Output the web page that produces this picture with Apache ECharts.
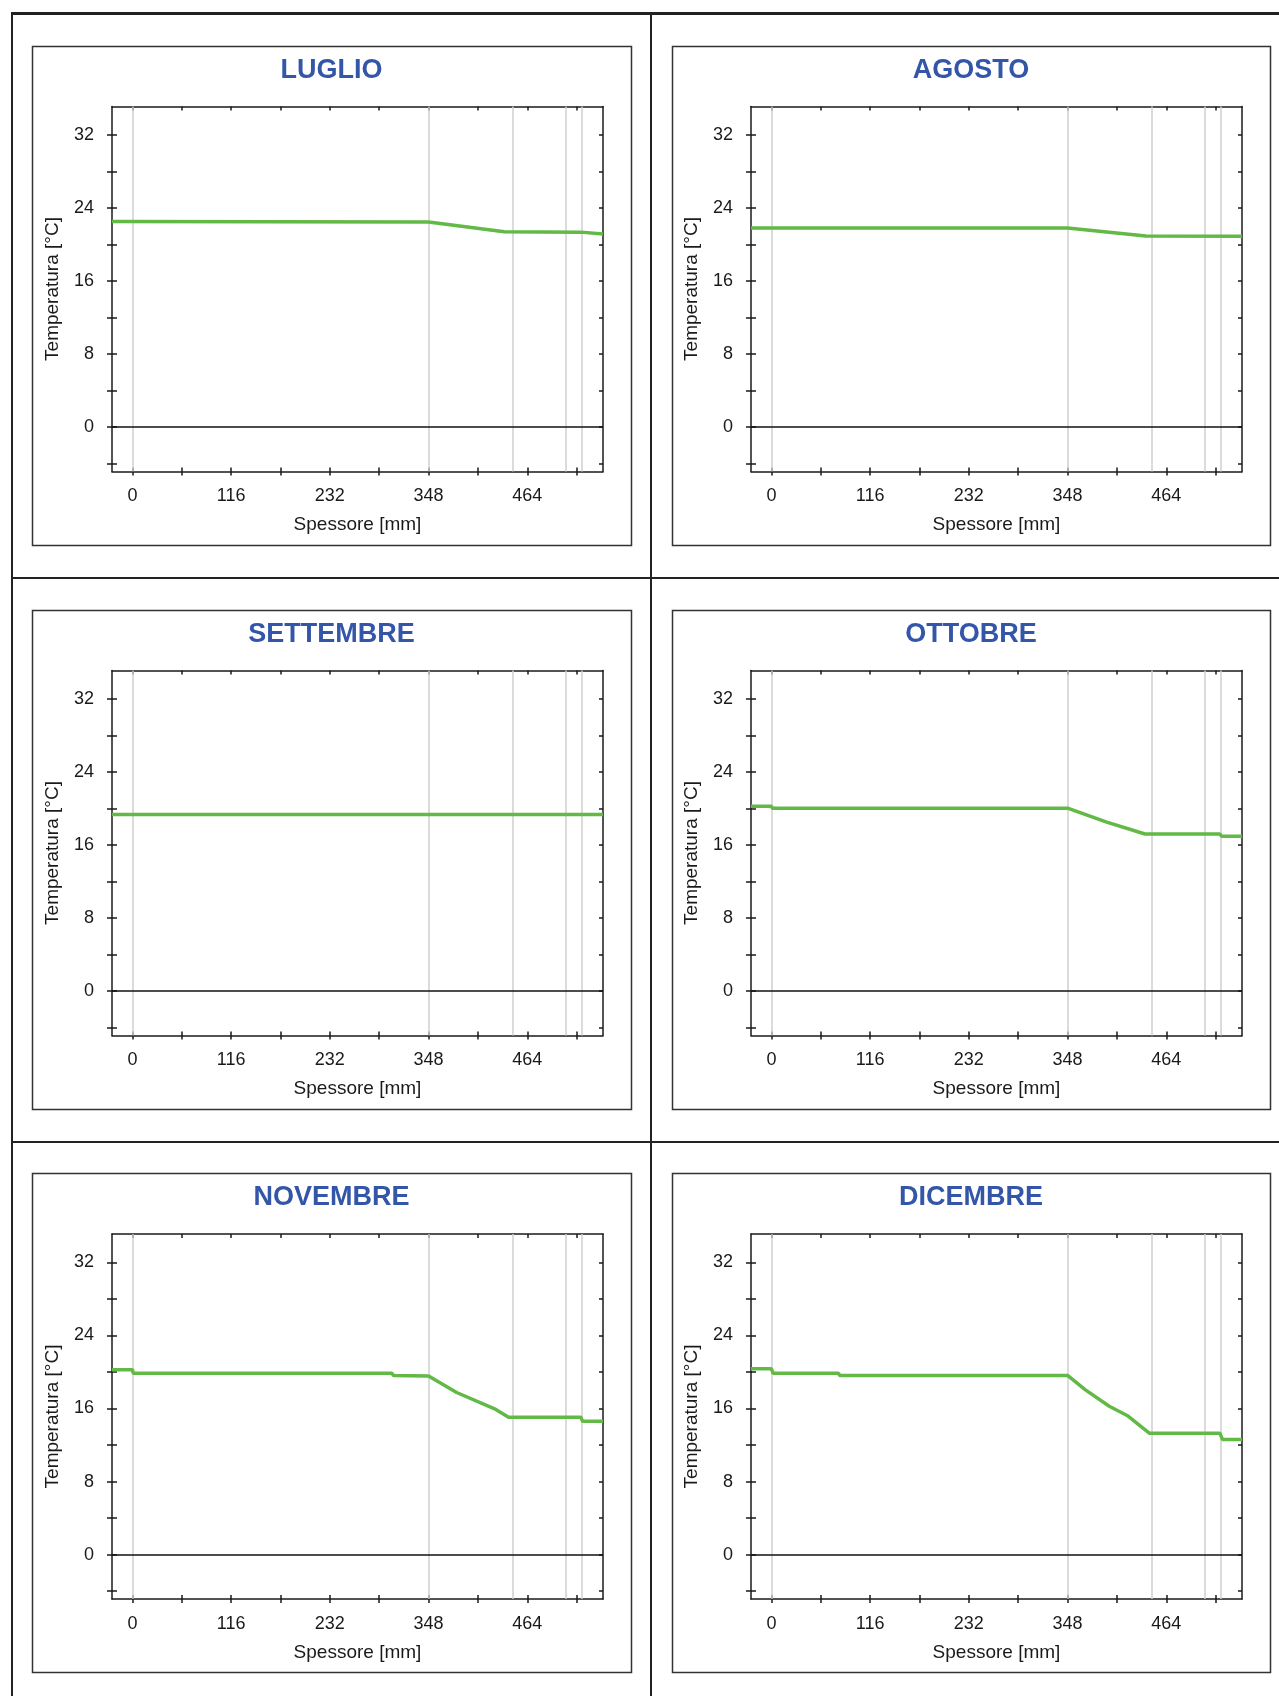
<!DOCTYPE html>
<html>
<head>
<meta charset="utf-8">
<script src="https://cdn.jsdelivr.net/npm/echarts@6/dist/echarts.min.js"></script>
<style>
html,body{margin:0;padding:0;background:#ffffff;}
#c{width:1279px;height:1696px;}
</style>
</head>
<body>
<div id="c"></div>
<script>
// ---------------- DATA ----------------
const months = ['LUGLIO', 'AGOSTO', 'SETTEMBRE', 'OTTOBRE', 'NOVEMBRE', 'DICEMBRE'];
const xTickValues = [0, 58, 116, 174, 232, 290, 348, 406, 464, 522];
const xLabelValues = [0, 116, 232, 348, 464];
const yTickValues = [-4, 0, 4, 8, 12, 16, 20, 24, 28, 32];
const yLabelValues = [0, 8, 16, 24, 32];
const xExtent = [-24, 553];
const yExtent = [-4.85, 35.1];
const layerBoundaries = [0, 348, 447.5, 509, 528];
const xName = 'Spessore [mm]';
const yName = 'Temperatura [°C]';

// temperature profiles: thickness [mm] and temperature [°C]
const luglioX = [-24, 348, 437, 527, 529, 553];
const luglioT = [22.5, 22.45, 21.4, 21.35, 21.15, 21.15];
const agostoX = [-24, 348, 440, 553];
const agostoT = [21.8, 21.8, 20.93, 20.9];
const settembreX = [-24, 553];
const settembreT = [19.35, 19.35];
const ottobreX = [-24, 0, 1, 348, 394, 439, 527, 529, 553];
const ottobreT = [20.25, 20.25, 20.03, 20.03, 18.5, 17.2, 17.2, 16.97, 16.97];
const novembreX = [-24, 0, 1, 305, 307, 348, 381, 427, 442, 527, 529, 553];
const novembreT = [20.25, 20.25, 19.85, 19.85, 19.6, 19.55, 17.75, 15.9, 15.05, 15.05, 14.6, 14.6];
const dicembreX = [-24, 0, 2, 79, 80, 348, 369, 397, 418, 444, 527, 530, 553];
const dicembreT = [20.35, 20.35, 19.85, 19.85, 19.62, 19.62, 18.04, 16.24, 15.24, 13.3, 13.3, 12.62, 12.62];

const profilesX = [luglioX, agostoX, settembreX, ottobreX, novembreX, dicembreX];
const profilesT = [luglioT, agostoT, settembreT, ottobreT, novembreT, dicembreT];

// ---------------- LAYOUT ----------------
const FONT = 'Liberation Sans, Arial, sans-serif';
const colPlotLeft = [112, 751];
const rowPlotTop = [106.5, 670.5, 1234];
const plotW = 491, plotH = 365;
const panelX = [32, 672], panelW = [599, 598];
const panelY = [46, 610, 1173], panelH = 499;

const grids = [], xAxes = [], yAxes = [], series = [], graphics = [];
const ink = '#1a1a1a';

function tick(vals, inside, len) {
  return { show: true, inside: inside, length: len, customValues: vals, lineStyle: { color: ink, width: 1.5 } };
}

months.forEach(function (m, i) {
  const c = i % 2, r = Math.floor(i / 2);
  grids.push({ left: colPlotLeft[c], top: rowPlotTop[r], width: plotW, height: plotH, containLabel: false });
  const axLine = { show: true, onZero: false, lineStyle: { color: ink, width: 1.5 } };
  const noLine = { show: false, onZero: false };
  const xb = { type: 'value', gridIndex: i, min: xExtent[0], max: xExtent[1], splitLine: { show: false } };
  const yb = { type: 'value', gridIndex: i, min: yExtent[0], max: yExtent[1], splitLine: { show: false } };
  // bottom x axis with labels
  xAxes.push(Object.assign({}, xb, {
    position: 'bottom', axisLine: axLine, axisTick: tick(xTickValues, false, 4),
    axisLabel: { customValues: xLabelValues, margin: 16, fontSize: 18, color: ink, fontFamily: FONT },
    name: xName, nameLocation: 'middle', nameGap: 44,
    nameTextStyle: { fontSize: 19, color: ink, fontFamily: FONT }
  }));
  // inner bottom ticks
  xAxes.push(Object.assign({}, xb, {
    position: 'bottom', axisLine: noLine, axisTick: tick(xTickValues, true, 4), axisLabel: { show: false }
  }));
  // top frame
  xAxes.push(Object.assign({}, xb, {
    position: 'top', axisLine: axLine, axisTick: tick(xTickValues, true, 4), axisLabel: { show: false }
  }));
  // left y axis with labels
  yAxes.push(Object.assign({}, yb, {
    position: 'left', axisLine: axLine, axisTick: tick(yTickValues, false, 5),
    axisLabel: { customValues: yLabelValues, margin: 18, fontSize: 18, color: ink, fontFamily: FONT, padding: [0, 0, 8, 0] },
    name: yName, nameLocation: 'middle', nameGap: 50, nameRotate: 90,
    nameTextStyle: { fontSize: 19, color: ink, fontFamily: FONT }
  }));
  // inner left ticks
  yAxes.push(Object.assign({}, yb, {
    position: 'left', axisLine: noLine, axisTick: tick(yTickValues, true, 5), axisLabel: { show: false }
  }));
  // right frame
  yAxes.push(Object.assign({}, yb, {
    position: 'right', axisLine: axLine, axisTick: tick(yTickValues, true, 4), axisLabel: { show: false }
  }));

  const xi = 3 * i, yi = 3 * i;
  series.push({
    type: 'line', xAxisIndex: xi, yAxisIndex: yi, data: [], silent: true, z: 1,
    markLine: {
      z: 1, silent: true, symbol: 'none', label: { show: false }, animation: false,
      lineStyle: { color: '#cfcfcf', width: 1.5, type: 'solid' },
      data: layerBoundaries.map(function (v) { return { xAxis: v }; })
    }
  });
  series.push({
    type: 'line', xAxisIndex: xi, yAxisIndex: yi, data: [], silent: true, z: 2,
    markLine: {
      z: 2, silent: true, symbol: 'none', label: { show: false }, animation: false,
      lineStyle: { color: '#111111', width: 1.5, type: 'solid' },
      data: [{ yAxis: 0 }]
    }
  });
  series.push({
    type: 'line', xAxisIndex: xi, yAxisIndex: yi, z: 3, symbol: 'none', silent: true,
    lineStyle: { color: '#62b946', width: 3.5 },
    data: profilesX[i].map(function (x, k) { return [x, profilesT[i][k]]; })
  });

  // panel frame
  graphics.push({
    type: 'rect', silent: true, z: 0,
    shape: { x: panelX[c] + 0.5, y: panelY[r] + 0.5, width: panelW[c], height: panelH },
    style: { fill: 'none', stroke: '#333333', lineWidth: 1.5 }
  });
  // panel title
  graphics.push({
    type: 'text', silent: true, z: 10,
    x: panelX[c] + panelW[c] / 2, y: panelY[r] + 25,
    style: {
      text: m, fill: '#3456a8', font: 'bold 27px ' + FONT,
      align: 'center', verticalAlign: 'middle', textAlign: 'center', textVerticalAlign: 'middle'
    }
  });
});

// outer table lines
const hLines = [[11, 13.5, 1279, 13.5, 3], [12, 578, 1279, 578, 2], [12, 1142, 1279, 1142, 2]];
const vLines = [[12, 12, 12, 1696, 2], [651, 12, 651, 1696, 2]];
hLines.concat(vLines).forEach(function (l) {
  graphics.push({ type: 'line', silent: true, z: 0, shape: { x1: l[0], y1: l[1], x2: l[2], y2: l[3] }, style: { stroke: '#222222', lineWidth: l[4] } });
});

const chart = echarts.init(document.getElementById('c'), null, { renderer: 'canvas', width: 1279, height: 1696 });
chart.setOption({
  animation: false,
  backgroundColor: '#ffffff',
  grid: grids,
  xAxis: xAxes,
  yAxis: yAxes,
  series: series,
  graphic: { elements: graphics }
});
</script>
</body>
</html>
